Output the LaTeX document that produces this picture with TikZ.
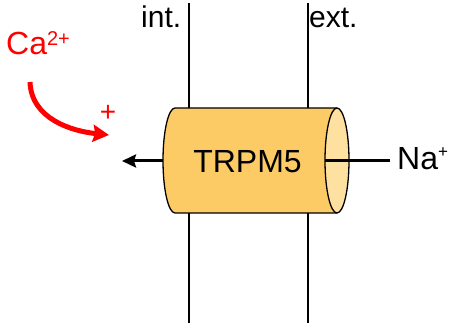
\documentclass[tikz,border=0pt]{standalone}
\usepackage{fontspec}
\setmainfont{Liberation Sans}
\usetikzlibrary{arrows.meta}
\definecolor{bodyfill}{HTML}{FDCB66}
\definecolor{facefill}{HTML}{FEE0A0}
\tikzset{
  x=1pt, y=1pt,
  membrane/.style={line width=1.3pt},
  label/.style={inner sep=0pt, font=\fontsize{30}{30}\selectfont},
  bigtext/.style={inner sep=0pt, font=\fontsize{32}{32}\selectfont},
  outline/.style={line width=1.3pt},
  flux/.style={line width=3pt},
  calcium/.style={red, line width=5pt, -{Stealth[length=16pt,width=17pt,inset=2pt]}},
}
\begin{document}
\begin{tikzpicture}
\useasboundingbox (0,0) rectangle (450,323);

% membrane boundaries
\draw[membrane] (189,320) -- (189,0);
\draw[membrane] (308,320) -- (308,0);
\node[label, anchor=base west] (int) at (141,295) {int.};
\node[label, anchor=base west] (ext) at (309,295) {ext.};

% channel body (back half of the left rim, side walls)
\coordinate (chan) at (256,162.5);
\fill[bodyfill] (175,215) arc[start angle=90, end angle=270, x radius=12, y radius=52.5]
  -- (337,110) -- (337,215) -- cycle;
\draw[outline] (337,215) -- (175,215)
  arc[start angle=90, end angle=270, x radius=12, y radius=52.5] -- (337,110);
% open end facing outside
\draw[outline, fill=facefill] (337,162.5) ellipse[x radius=12, y radius=52.5];
\coordinate (face) at (325,162);
\coordinate (rear) at (163,162);

\node[bigtext, anchor=base] (trpm) at (247.5,150) {TRPM5};

% sodium flux through the channel
\node[bigtext, anchor=base west] (na) at (397,153)
  {Na\raisebox{12pt}{\fontsize{17}{17}\selectfont +}};
\coordinate (out) at (122,162);
\draw[flux] (face) -- (390,162);
\draw[flux, -{Stealth[length=14pt,width=13pt,inset=2pt]}] (rear) -- (out);

% calcium activation
\node[bigtext, red, anchor=base west] (ca) at (6,268)
  {Ca\raisebox{9pt}{\fontsize{20}{20}\selectfont 2+}};
\coordinate (castart) at (30,241);
\coordinate (caend) at (109,188);
\draw[calcium] (castart) to[out=-88, in=174] (caend);
\node[red, inner sep=0pt, font=\fontsize{28}{28}\selectfont] (plus) at (108,210) {+};
\end{tikzpicture}
\end{document}
